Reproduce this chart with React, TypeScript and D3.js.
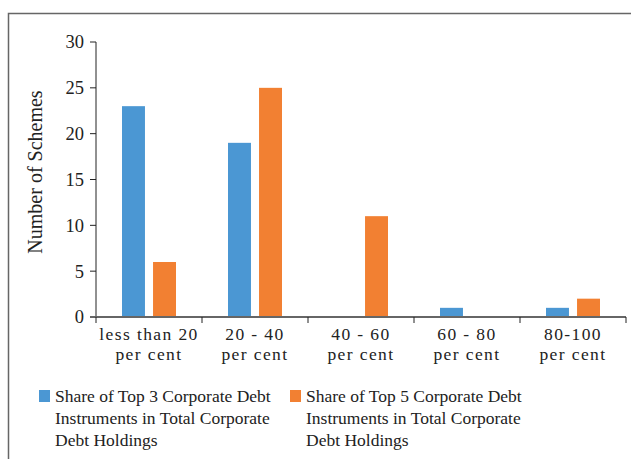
import React from "react";
import * as d3 from "d3";

const categories = ["less than 20|per cent", "20 - 40|per cent", "40 - 60|per cent", "60 - 80|per cent", "80-100|per cent"];
const seriesNames = [
  "Share of Top 3 Corporate Debt|Instruments in Total Corporate|Debt Holdings",
  "Share of Top 5 Corporate Debt|Instruments in Total Corporate|Debt Holdings",
];
const top3Values = [23, 19, 0, 1, 1];
const top5Values = [6, 25, 11, 0, 2];
const yTicks = [0, 5, 10, 15, 20, 25, 30];
const colors = ["#4b97d3", "#f28032"];
const yTitle = "Number of Schemes";

const FONT = "Liberation Serif";

export default function App() {
  const W = 631, H = 459;
  const x = d3.scaleBand<string>().domain(categories).range([96, 626]).paddingInner(0).paddingOuter(0);
  const inner = d3.scaleBand<number>().domain([0, 1]).range([26, 80]).paddingInner(0.26);
  const y = d3.scaleLinear().domain([0, 30]).range([317, 42]);
  const series = [top3Values, top5Values];
  const edges = [...categories.map((c) => x(c) as number), 626];

  return (
    <svg width={W} height={H} style={{ position: "absolute", left: 0, top: 0, background: "#fff" }} fontFamily={FONT}>
      <rect x={8.5} y={13.5} width={700} height={500} fill="#fff" stroke="#666" strokeWidth={1.5} />
      {series.map((vals, si) =>
        vals.map((v, i) => {
          const cx = (x(categories[i]) as number) + (inner(si) as number);
          return v > 0 ? (
            <rect key={`${si}-${i}`} x={cx} y={y(v)} width={inner.bandwidth()} height={y(0) - y(v)} fill={colors[si]} />
          ) : null;
        })
      )}
      {/* y axis */}
      <line x1={96} x2={96} y1={y(30)} y2={y(0)} stroke="#222" strokeWidth={1} />
      {yTicks.map((t) => (
        <g key={t}>
          <line x1={90} x2={96} y1={y(t)} y2={y(t)} stroke="#222" strokeWidth={1} />
          <text x={84} y={y(t)} dy="0.35em" textAnchor="end" fontSize={18.5} fill="#222">{t}</text>
        </g>
      ))}
      {/* x axis */}
      <line x1={90} x2={626} y1={y(0)} y2={y(0)} stroke="#666" strokeWidth={1.8} />
      {edges.map((e, i) => (
        <line key={i} x1={e} x2={e} y1={y(0)} y2={y(0) + 6} stroke="#222" strokeWidth={1} />
      ))}
      {categories.map((c) => {
        const cx = (x(c) as number) + x.bandwidth() / 2;
        return (
          <g key={c}>
            {c.split("|").map((l, j) => (
              <text key={j} x={cx} y={340 + j * 20} textAnchor="middle" fontSize={17.5} letterSpacing={1.4} fill="#222">{l}</text>
            ))}
          </g>
        );
      })}
      <text transform={`translate(42,172) rotate(-90)`} textAnchor="middle" fontSize={20} fill="#222">{yTitle}</text>
      {/* legend */}
      {seriesNames.map((s, si) => {
        const lx = si === 0 ? 39 : 290;
        return (
          <g key={si}>
            <rect x={lx} y={390} width={11} height={12} fill={colors[si]} />
            <text fontSize={17.5} fill="#222">
              {s.split("|").map((l, j) => (
                <tspan key={j} x={lx + 16} y={402 + j * 22}>{l}</tspan>
              ))}
            </text>
          </g>
        );
      })}
    </svg>
  );
}
